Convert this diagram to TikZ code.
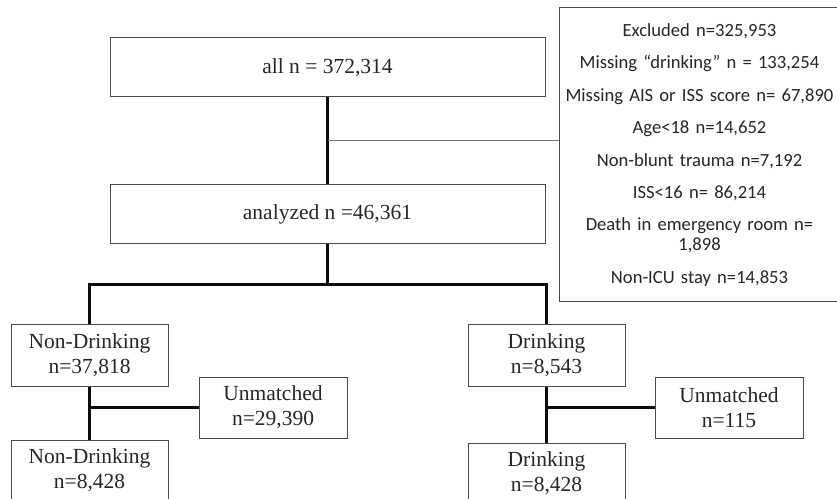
\documentclass[tikz,border=0pt]{standalone}
\usepackage{fontspec}
\setmainfont{Liberation Serif}
\newfontfamily\calibri{Carlito}
\usetikzlibrary{calc,positioning}
\tikzset{
  caja/.style={
    draw=black!70,
    line width=1pt,
    align=center,
    inner sep=0pt,
    text=black!85,
    font=\fontsize{21.5}{25}\selectfont
  },
  grande/.style={
    caja,
    minimum width=435pt,
    minimum height=59pt
  },
  lado/.style={
    caja,
    minimum width=157pt,
    minimum height=61pt
  },
  resto/.style={
    caja,
    minimum width=148pt,
    minimum height=61pt
  },
  conn/.style={
    line width=2.2pt,
    black!95
  }
}

\begin{document}
\begin{tikzpicture}[x=1pt,y=1pt]
\useasboundingbox (0,0) rectangle (837,498);
\node[grande] (all) at (327.5,430.5) {all n = 372,314};
\node[grande,below=87pt of all] (ana) {analyzed n =46,361};
\node[caja,minimum height=294pt,text width=281pt,
  font=\calibri\fontsize{18.6}{20}\selectfont] (exc) at (699.5,343)
  {Excluded n=325,953\\[12.4pt]
   Missing “drinking” n = 133,254\\[12.4pt]
   Missing AIS or ISS score n= 67,890\\[12.4pt]
   Age<18 n=14,652\\[12.4pt]
   Non-blunt trauma n=7,192\\[12.4pt]
   ISS<16 n= 86,214\\[12.4pt]
   Death in emergency room n=\\
   1,898\\[12.4pt]
   Non-ICU stay n=14,853};
% the two arms
\node[lado] (nd) at (89.5,142.5) {Non-Drinking\\n=37,818};
\node[lado,right=299pt of nd] (dr) {Drinking\\n=8,543};
\node[lado,below=53pt of nd] (ndm) {Non-Drinking\\n=8,428};
\node[lado,below=56pt of dr] (drm) {Drinking\\n=8,428};
\node[resto] (unl) at (273,90.5) {Unmatched\\n=29,390};
\node[resto] (unr) at (729,90.5) {Unmatched\\n=115};
% connectors
\coordinate (ex) at ($(all.south)!0.5!(ana.north)$);
\coordinate (split) at ($(ana.south)+(0,-40)$);
\draw[conn] (all.south) -- (ana.north);
\draw[line width=1pt,black!55] (ex) -- (ex -| exc.west);
\draw[conn] (ana.south) -- (split);
\draw[conn] (nd.north) -- (nd.north |- split) -- (dr.north |- split) -- (dr.north);
\draw[conn] (nd.south) -- (ndm.north);
\draw[conn] (nd.south |- unl.west) -- (unl.west);
\draw[conn] (dr.south) -- (drm.north);
\draw[conn] (dr.south |- unr.west) -- (unr.west);
\end{tikzpicture}
\end{document}
